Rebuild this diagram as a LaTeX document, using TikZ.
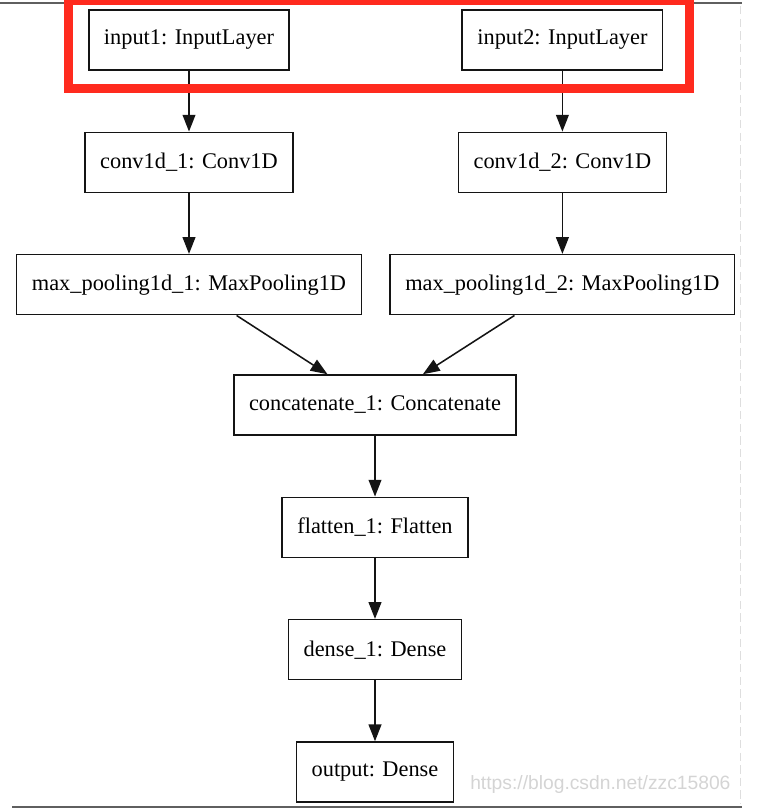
\documentclass[tikz,border=0pt]{standalone}
\usepackage{fontspec}
\setmainfont{Liberation Serif}
\setsansfont{Liberation Sans}
\usetikzlibrary{arrows.meta, positioning}
\definecolor{bLayer}{RGB}{20, 20, 20}
\definecolor{bMark}{RGB}{255, 42, 30}
\definecolor{cFrame}{RGB}{95, 95, 95}
\definecolor{cDash}{RGB}{222, 222, 222}
\definecolor{tMark}{RGB}{212, 212, 212}

\begin{document}
\begin{tikzpicture}[
    font=\fontsize{15.9}{19}\selectfont,
    >={Triangle[length=0.42cm, width=0.32cm]},
    node distance=1.52cm,
    layer/.style={
        draw=bLayer,
        line width=1.1pt,
        minimum height=1.5cm,
        inner xsep=0.38cm,
        align=center
    },
    arrow/.style={->, line width=1.1pt, color=bLayer}
]
\useasboundingbox (0,0) rectangle (19.3,-20.3);

% screenshot frame
\draw[cFrame, line width=1.4pt] (0,-0.07) -- (18.55,-0.07);
\draw[cFrame, line width=1.4pt] (0.3,-20.17) -- (18.55,-20.17);
\draw[cDash, line width=0.8pt, dash pattern=on 6pt off 3pt] (18.52,-0.15) -- (18.52,-20.1);

% Branch 1
\node[layer] (in1) at (4.725, -1.0) {input1: InputLayer};
\node[layer, below=of in1] (conv1) {conv1d\_1: Conv1D};
\node[layer, below=of conv1] (pool1) {max\_pooling1d\_1: MaxPooling1D};

% Branch 2
\node[layer] (in2) at (14.06, -1.0) {input2: InputLayer};
\node[layer, below=of in2] (conv2) {conv1d\_2: Conv1D};
\node[layer, below=of conv2] (pool2) {max\_pooling1d\_2: MaxPooling1D};

% Merge and head
\node[layer] (concat) at (9.375, -10.125) {concatenate\_1: Concatenate};
\node[layer, below=of concat] (flat) {flatten\_1: Flatten};
\node[layer, below=of flat] (dense) {dense\_1: Dense};
\node[layer, below=of dense] (out) {output: Dense};

\draw[arrow] (in1) -- (conv1);
\draw[arrow] (conv1) -- (pool1);
\draw[arrow] (in2) -- (conv2);
\draw[arrow] (conv2) -- (pool2);
\draw[arrow] (pool1) -- (concat);
\draw[arrow] (pool2) -- (concat);
\draw[arrow] (concat) -- (flat);
\draw[arrow] (flat) -- (dense);
\draw[arrow] (dense) -- (out);

% highlight of the inputs
\draw[bMark, line width=0.225cm] (1.7,-0.02) rectangle (17.24,-2.21);

\node[font=\sffamily\fontsize{13.7}{16}\selectfont, text=tMark, anchor=west, inner sep=0pt] (mark) at (11.75,-19.62) {https://blog.csdn.net/zzc15806};

\end{tikzpicture}
\end{document}
